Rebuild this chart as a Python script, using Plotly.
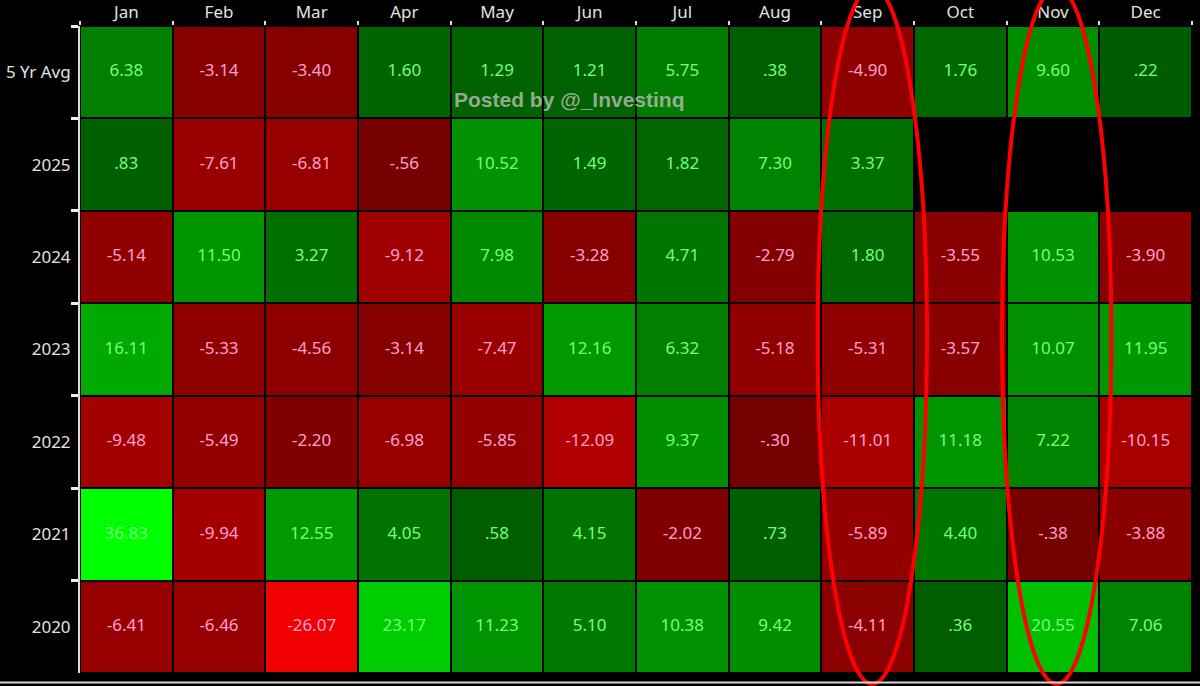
import plotly.graph_objects as go

MONTHS = ["Jan", "Feb", "Mar", "Apr", "May", "Jun", "Jul", "Aug", "Sep", "Oct", "Nov", "Dec"]
ROWS = ["5 Yr Avg", "2025", "2024", "2023", "2022", "2021", "2020"]

avg_5yr = [6.38, -3.14, -3.40, 1.60, 1.29, 1.21, 5.75, 0.38, -4.90, 1.76, 9.60, 0.22]
y2025 = [0.83, -7.61, -6.81, -0.56, 10.52, 1.49, 1.82, 7.30, 3.37, None, None, None]
y2024 = [-5.14, 11.50, 3.27, -9.12, 7.98, -3.28, 4.71, -2.79, 1.80, -3.55, 10.53, -3.90]
y2023 = [16.11, -5.33, -4.56, -3.14, -7.47, 12.16, 6.32, -5.18, -5.31, -3.57, 10.07, 11.95]
y2022 = [-9.48, -5.49, -2.20, -6.98, -5.85, -12.09, 9.37, -0.30, -11.01, 11.18, 7.22, -10.15]
y2021 = [36.83, -9.94, 12.55, 4.05, 0.58, 4.15, -2.02, 0.73, -5.89, 4.40, -0.38, -3.88]
y2020 = [-6.41, -6.46, -26.07, 23.17, 11.23, 5.10, 10.38, 9.42, -4.11, 0.36, 20.55, 7.06]

Z = [avg_5yr, y2025, y2024, y2023, y2022, y2021, y2020]

# --- colour scale (value anchors -> colours) ---
vals = [v for row in Z for v in row if v is not None]
ZMIN, ZMAX = min(vals), max(vals)
neg_anchors = [(ZMIN, "#f00000"), (-12.0, "#b00000"), (-9.0, "#a00000"),
               (-5.0, "#900000"), (-2.0, "#800000"), (0.0, "#740000")]
pos_anchors = [(0.0, "#005a00"), (2.0, "#006800"), (5.0, "#007800"), (8.0, "#008800"),
               (12.0, "#009800"), (16.0, "#00a800"), (23.0, "#00cc00"), (ZMAX, "#00ff00")]


def frac(v):
    return (v - ZMIN) / (ZMAX - ZMIN)


colorscale = [[frac(v), c] for v, c in neg_anchors] + [[frac(v), c] for v, c in pos_anchors]


def fmt(v):
    s = f"{v:.2f}"
    if s.startswith("0."):
        s = s[1:]
    elif s.startswith("-0."):
        s = "-" + s[2:]
    return s


pos_x, pos_y, pos_t, neg_x, neg_y, neg_t = [], [], [], [], [], []
for r, row in zip(ROWS, Z):
    for m, v in zip(MONTHS, row):
        if v is None:
            continue
        if v >= 0:
            pos_x.append(m); pos_y.append(r); pos_t.append(fmt(v))
        else:
            neg_x.append(m); neg_y.append(r); neg_t.append(fmt(v))

FONT = "Noto Sans"

fig = go.Figure()
fig.add_trace(go.Heatmap(
    z=Z, x=MONTHS, y=ROWS, zmin=ZMIN, zmax=ZMAX, colorscale=colorscale,
    showscale=False, xgap=2, ygap=2, hoverongaps=False,
))
fig.add_trace(go.Scatter(
    x=pos_x, y=pos_y, text=pos_t, mode="text", showlegend=False,
    textfont=dict(family=FONT, size=17, color="#74ff7a"), hoverinfo="skip",
))
fig.add_trace(go.Scatter(
    x=neg_x, y=neg_y, text=neg_t, mode="text", showlegend=False,
    textfont=dict(family=FONT, size=17, color="#ffa0d0"), hoverinfo="skip",
))

# red ellipses around Sep and Nov
for m, dx in [("Sep", 0.05), ("Nov", 0.04)]:
    i = MONTHS.index(m)
    fig.add_shape(type="circle", xref="x", yref="paper",
                  x0=i + dx - 0.59, x1=i + dx + 0.59, y0=-0.017, y1=1.06,
                  line=dict(color="#ff0000", width=4), layer="above")

# bottom light line
fig.add_shape(type="line", xref="paper", yref="paper", x0=-0.2, x1=1.2,
              y0=-0.0145, y1=-0.0145, line=dict(color="#d8d8d8", width=2))

fig.add_annotation(
    text="<b>Posted by @_Investinq</b>", xref="paper", yref="paper", x=0.44, y=0.886,
    showarrow=False, font=dict(family="Liberation Sans", size=21, color="rgba(195,195,195,0.75)"),
    xanchor="center", yanchor="middle",
)

fig.update_layout(
    width=1200, height=686,
    margin=dict(l=80, r=8, t=26, b=13),
    paper_bgcolor="black", plot_bgcolor="black",
    font=dict(family=FONT, color="#e2e2e2", size=17),
    showlegend=False,
    xaxis=dict(side="top", type="category", categoryorder="array", categoryarray=MONTHS,
               range=[-0.5, len(MONTHS) - 0.5], showgrid=False, zeroline=False,
               automargin=False, ticklabelstandoff=4,
               ticks="outside", tickson="boundaries", ticklen=4, tickwidth=1.5,
               tickcolor="#dddddd", tickfont=dict(size=17, color="#e2e2e2"), fixedrange=True),
    yaxis=dict(type="category", categoryorder="array", categoryarray=ROWS,
               range=[len(ROWS) - 0.5, -0.5], showgrid=False, zeroline=False,
               automargin=False, ticklabelstandoff=4,
               showline=True, linecolor="#d8d8d8", linewidth=2,
               ticks="outside", tickson="boundaries", ticklen=7, tickwidth=3,
               tickcolor="#eeeeee", tickfont=dict(size=17, color="#e2e2e2"), fixedrange=True),
)

fig.write_html(
    "out.html",
    config={"displayModeBar": False},
    post_script="document.body.style.margin='0';document.body.style.background='black';"
                "document.body.style.overflow='hidden';",
)
